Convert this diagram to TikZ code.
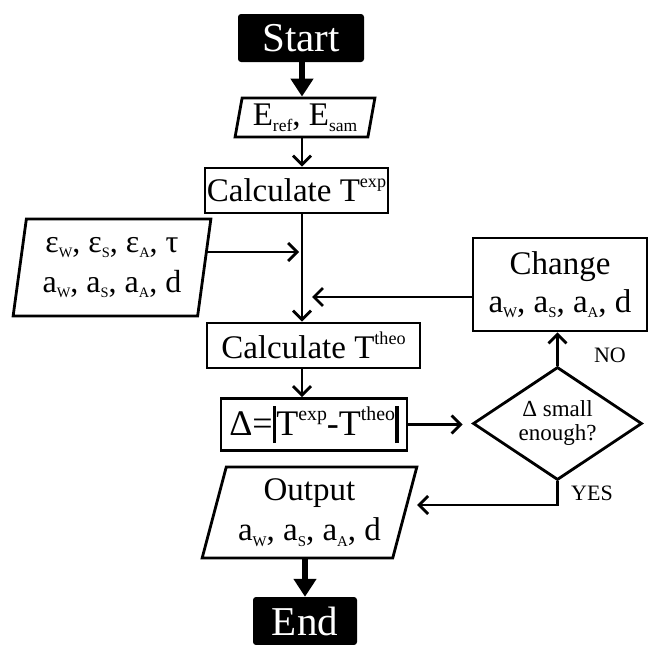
\documentclass[tikz,border=0pt]{standalone}
\usepackage{fontspec}
\setmainfont{Liberation Serif}
\usetikzlibrary{shapes.geometric, arrows.meta}

\newcommand{\hiidx}[1]{\raisebox{0.42em}{\scalebox{0.55}{#1}}}
\newcommand{\loidx}[2][0.45]{\raisebox{-0.17em}{\scalebox{#1}{#2}}}
\newcommand{\absbar}{\rule[-0.2em]{0.1em}{1.03em}}

\begin{document}
\begin{tikzpicture}[x=1pt, y=-1pt,
    every node/.style={inner sep=0pt},
    termbox/.style={rectangle, rounded corners=3pt, fill=black, text=white,
        minimum height=48pt, font=\fontsize{41}{44}\selectfont},
    procbox/.style={rectangle, draw, line width=2.8pt, align=center,
        font=\fontsize{33}{38}\selectfont},
    iobox/.style={trapezium, trapezium stretches=true, draw, line width=2.8pt,
        align=center, font=\fontsize{33}{40}\selectfont},
    testbox/.style={diamond, draw, line width=2.8pt, align=center,
        font=\fontsize{23}{24}\selectfont},
    ans/.style={font=\fontsize{22}{24}\selectfont},
    flow/.style={line width=2.8pt, -{Straight Barb[length=9pt, width=18pt]}},
    bigflow/.style={line width=6pt, -{Triangle[length=18pt, width=22pt]}} ]
    % --- Main column ---
    \node[termbox, minimum width=126pt] (start) at (301, 38) {Start};
    \node[iobox, trapezium left angle=78, trapezium right angle=102,
        minimum width=140pt, minimum height=39pt] (eref) at (305, 117.5)
        {E\loidx[0.53]{ref}, E\loidx[0.53]{sam}};
    \node[procbox, minimum width=183pt, minimum height=45pt] (calcexp) at (296.5, 190.5)
        {Calculate T\hiidx{exp}};
    \node[procbox, minimum width=213pt, minimum height=45pt] (calctheo) at (313.5, 345.5)
        {Calculate T\hiidx{theo}};
    \node[procbox, minimum width=186pt, minimum height=52pt,
        font=\fontsize{36}{38}\selectfont] (delta) at (314, 424.5)
        {Δ=\absbar T\hiidx{exp}-T\hiidx{theo}\absbar};
    \node[iobox, trapezium left angle=73, trapezium right angle=107,
        minimum width=215pt, minimum height=91pt] (output) at (309.5, 512.5)
        {Output\\a\loidx{W}, a\loidx{S}, a\loidx{A}, d};
    \node[termbox, minimum width=104pt] (end) at (305, 621) {End};

    % --- Side boxes ---
    \node[iobox, trapezium left angle=80, trapezium right angle=100,
        minimum width=198pt, minimum height=97pt,
        font=\fontsize{32}{40}\selectfont] (input) at (112, 267.5)
        {ε\loidx{W}, ε\loidx{S}, ε\loidx{A}, τ\\a\loidx{W}, a\loidx{S}, a\loidx{A}, d};
    \node[procbox, minimum width=174pt, minimum height=93pt,
        font=\fontsize{33}{38}\selectfont] (change) at (560, 284.5)
        {Change\\a\loidx{W}, a\loidx{S}, a\loidx{A}, d};
    \node[testbox, minimum width=169pt, minimum height=113pt, aspect=1.5] (check)
        at (557.5, 423.5) {Δ small\\enough?};
    \node[ans] (no) at (610, 355) {NO};
    \node[ans] (yes) at (592, 493) {YES};

    % --- Connectors ---
    \coordinate (spine) at (302, 0);
    \draw[bigflow] (start.south -| spine) -- (eref.north -| spine);
    \draw[flow] (eref.south -| spine) -- (calcexp.north -| spine);
    \draw[flow] (calcexp.south -| spine) -- (calctheo.north -| spine);
    \draw[flow, shorten >=3pt] ([yshift=15.5pt]input.east) -- ([yshift=15.5pt]input.east -| spine);
    \draw[flow, shorten >=10pt] ([yshift=-12.5pt]change.west) -- ([yshift=-12.5pt]change.west -| spine);
    \draw[flow] (calctheo.south -| spine) -- (delta.north -| spine);
    \draw[flow, shorten >=9pt] (delta.east) -- (delta.east -| check.west);
    \draw[flow] (check.north) -- (check.north |- change.south);
    \draw[flow, shorten >=11pt] (check.south) |- ([yshift=7.5pt]output.east);
    \draw[bigflow] (output.south -| end.north) -- (end.north);

    % Bounding box for padding
    \useasboundingbox (0, 0) rectangle (649, 642);
\end{tikzpicture}
\end{document}
